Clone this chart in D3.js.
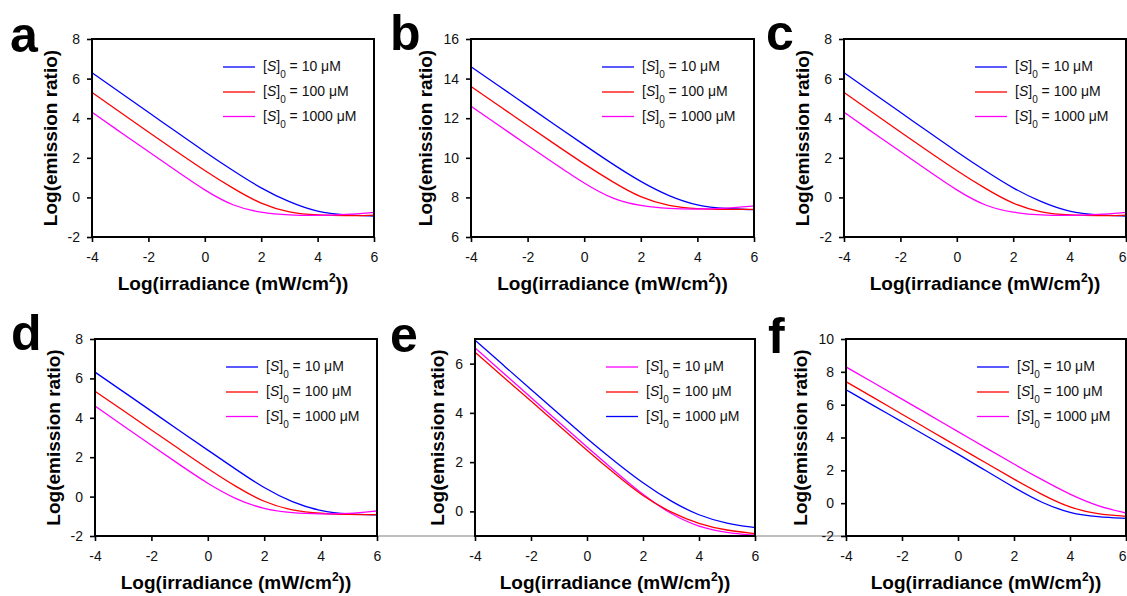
<!DOCTYPE html>
<html>
<head>
<meta charset="utf-8">
<script src="https://cdn.jsdelivr.net/npm/d3@7"></script>
<style>
  body { margin: 0; background: #fff; }
  svg { display: block; font-family: "Liberation Sans", Arial, sans-serif; }
</style>
</head>
<body>
<svg id="fig"></svg>
<script>
const width = 1127;
const height = 596;

// x positions of the read-off points, Log(irradiance)
const xs = [-4, -3, -2, -1, 0, 1, 2, 3, 4, 5, 6];
const xTicks = [-4, -2, 0, 2, 4, 6];
const concLabels = ["10", "100", "1000"];

// panel a
const a10   = [6.3, 5.3, 4.3, 3.3, 2.3, 1.35, 0.45, -0.25, -0.75, -0.9, -0.94];
const a100  = [5.3, 4.3, 3.3, 2.32, 1.35, 0.45, -0.35, -0.78, -0.9, -0.93, -0.9];
const a1000 = [4.3, 3.3, 2.32, 1.33, 0.35, -0.45, -0.78, -0.9, -0.92, -0.87, -0.76];
// panel b
const b10   = [14.6, 13.62, 12.62, 11.63, 10.65, 9.68, 8.78, 8.05, 7.57, 7.42, 7.38];
const b100  = [13.6, 12.62, 11.63, 10.65, 9.68, 8.78, 7.97, 7.55, 7.42, 7.39, 7.4];
const b1000 = [12.6, 11.62, 10.63, 9.66, 8.7, 7.9, 7.56, 7.43, 7.4, 7.45, 7.57];
// panel c
const c10   = [6.3, 5.3, 4.3, 3.3, 2.3, 1.35, 0.45, -0.25, -0.75, -0.9, -0.94];
const c100  = [5.3, 4.3, 3.3, 2.32, 1.35, 0.45, -0.35, -0.78, -0.9, -0.93, -0.9];
const c1000 = [4.3, 3.3, 2.32, 1.33, 0.35, -0.45, -0.78, -0.9, -0.92, -0.87, -0.76];
// panel d
const d10   = [6.32, 5.33, 4.34, 3.34, 2.36, 1.38, 0.42, -0.3, -0.75, -0.9, -0.93];
const d100  = [5.35, 4.37, 3.38, 2.4, 1.42, 0.5, -0.3, -0.72, -0.86, -0.91, -0.92];
const d1000 = [4.6, 3.6, 2.6, 1.62, 0.65, -0.15, -0.65, -0.84, -0.88, -0.88, -0.73];
// panel e
const e10   = [6.64, 5.63, 4.62, 3.62, 2.61, 1.63, 0.66, -0.12, -0.65, -0.87, -0.97];
const e100  = [6.46, 5.47, 4.48, 3.48, 2.48, 1.52, 0.6, -0.05, -0.52, -0.78, -0.9];
const e1000 = [6.95, 5.95, 4.95, 3.95, 2.95, 2.02, 1.14, 0.4, -0.18, -0.5, -0.66];
// panel f
const f10   = [6.91, 5.93, 4.95, 3.97, 3.0, 1.97, 0.95, 0.0, -0.62, -0.85, -0.93];
const f100  = [7.4, 6.41, 5.42, 4.43, 3.44, 2.45, 1.46, 0.52, -0.3, -0.68, -0.8];
const f1000 = [8.3, 7.32, 6.34, 5.35, 4.36, 3.37, 2.38, 1.42, 0.52, -0.2, -0.6];

const BLUE = "#0000ff", RED = "#ff0000", MAGENTA = "#ff00ff";

const panels = [
  { letter: "a", lx: 10,  ly: 52,  box: [92, 39, 374, 237],   yDomain: [-2, 8],  yTicks: [-2, 0, 2, 4, 6, 8],
    series: [a10, a100, a1000], colors: [BLUE, RED, MAGENTA] },
  { letter: "b", lx: 390, ly: 50,  box: [471, 39, 754, 237],  yDomain: [6, 16],  yTicks: [6, 8, 10, 12, 14, 16],
    series: [b10, b100, b1000], colors: [BLUE, RED, MAGENTA] },
  { letter: "c", lx: 766, ly: 50,  box: [844, 39, 1126, 237], yDomain: [-2, 8],  yTicks: [-2, 0, 2, 4, 6, 8],
    series: [c10, c100, c1000], colors: [BLUE, RED, MAGENTA] },
  { letter: "d", lx: 11,  ly: 350, box: [95, 339, 377, 536],  yDomain: [-2, 8],  yTicks: [-2, 0, 2, 4, 6, 8],
    series: [d10, d100, d1000], colors: [BLUE, RED, MAGENTA] },
  { letter: "e", lx: 390, ly: 352, box: [475, 339, 755, 536], yDomain: [-1, 7],  yTicks: [0, 2, 4, 6],
    series: [e10, e100, e1000], colors: [MAGENTA, RED, BLUE] },
  { letter: "f", lx: 768, ly: 353, box: [846, 339, 1126, 536], yDomain: [-2, 10], yTicks: [-2, 0, 2, 4, 6, 8, 10],
    series: [f10, f100, f1000], colors: [BLUE, RED, MAGENTA] }
];

const svg = d3.select("#fig")
    .attr("width", width)
    .attr("height", height);

// stray grey rule between the lower panels (present in the figure)
svg.append("line")
    .attr("x1", 377).attr("x2", 846)
    .attr("y1", 536).attr("y2", 536)
    .attr("stroke", "#aaaaaa")
    .attr("stroke-width", 1.5);

panels.forEach(function(p, i) {
  const [L, T, R, B] = p.box;
  const x = d3.scaleLinear().domain([-4, 6]).range([L, R]);
  const y = d3.scaleLinear().domain(p.yDomain).range([B, T]);
  const g = svg.append("g");

  g.append("clipPath").attr("id", "clip" + i)
    .append("rect").attr("x", L).attr("y", T).attr("width", R - L).attr("height", B - T);

  const line = d3.line()
      .x(d => x(d[0]))
      .y(d => y(d[1]))
      .curve(d3.curveBasis);

  p.series.forEach(function(vals, k) {
    g.append("path")
        .datum(xs.map((xv, j) => [xv, vals[j]]))
        .attr("clip-path", "url(#clip" + i + ")")
        .attr("fill", "none")
        .attr("stroke", p.colors[k])
        .attr("stroke-width", 1.3)
        .attr("d", line);
  });

  // axes (plain hyphen for negatives, as in the figure)
  const fmt = d => String(d);
  const yAxis = g.append("g")
      .attr("transform", `translate(${L},0)`)
      .call(d3.axisLeft(y).tickValues(p.yTicks).tickFormat(fmt).tickSize(5).tickPadding(7));
  const xAxis = g.append("g")
      .attr("transform", `translate(0,${B})`)
      .call(d3.axisBottom(x).tickValues(xTicks).tickFormat(fmt).tickSize(5).tickPadding(10));

  [yAxis, xAxis].forEach(ax => {
    ax.attr("font-size", 14).attr("font-family", null);
    ax.select(".domain").remove();
    ax.selectAll(".tick line").attr("stroke-width", 1.6);
    ax.selectAll(".tick text").attr("fill", "#111");
  });

  // keep the last x label inside the page
  xAxis.selectAll(".tick text").each(function() {
    const bb = this.getBBox();
    const tx = x(+this.textContent);
    if (tx + bb.width / 2 > width) {
      d3.select(this).attr("text-anchor", "end").attr("x", width - 1 - tx);
    }
  });

  // frame
  g.append("rect")
      .attr("x", L).attr("y", T)
      .attr("width", R - L).attr("height", B - T)
      .attr("fill", "none")
      .attr("stroke", "#000")
      .attr("stroke-width", 2);

  // axis titles
  const xt = g.append("text")
      .attr("x", (L + R) / 2)
      .attr("y", B + 53)
      .attr("text-anchor", "middle")
      .attr("font-size", 19)
      .attr("font-weight", "bold")
      .text("Log(irradiance (mW/cm");
  xt.append("tspan").attr("font-size", 12).attr("dy", -8).text("2");
  xt.append("tspan").attr("dy", 8).text("))");

  const labelLeft = yAxis.node().getBBox().x + L;
  const ytx = labelLeft - 11;
  g.append("text")
      .attr("transform", `translate(${ytx},${(T + B) / 2}) rotate(-90)`)
      .attr("text-anchor", "middle")
      .attr("font-size", 19)
      .attr("font-weight", "bold")
      .text("Log(emission ratio)");

  // legend
  const rows = [28, 53, 77.5];
  concLabels.forEach(function(c, k) {
    const ly = T + rows[k];
    g.append("line")
        .attr("x1", L + 131).attr("x2", L + 163)
        .attr("y1", ly).attr("y2", ly)
        .attr("stroke", p.colors[k])
        .attr("stroke-width", 1.3);
    const t = g.append("text")
        .attr("x", L + 171)
        .attr("y", ly + 4)
        .attr("font-size", 14)
        .attr("fill", "#111");
    t.append("tspan").text("[");
    t.append("tspan").attr("font-style", "italic").text("S");
    t.append("tspan").text("]");
    t.append("tspan").attr("font-size", 10).attr("dy", 7).text("0");
    t.append("tspan").attr("dy", -7).text(" = " + c + " \u03bcM");
  });

  // panel letter
  svg.append("text")
      .attr("x", p.lx)
      .attr("y", p.ly)
      .attr("font-size", 50)
      .attr("font-weight", "bold")
      .text(p.letter);
});
</script>
</body>
</html>
